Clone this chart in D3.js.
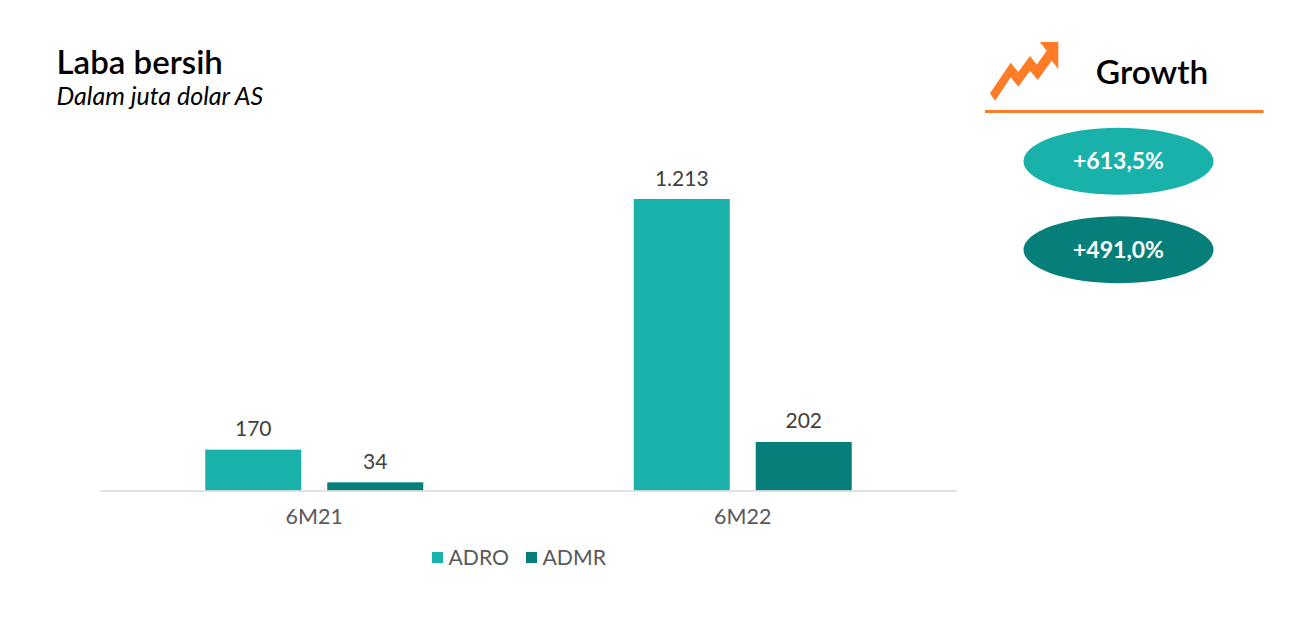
<!DOCTYPE html>
<html>
<head>
  <meta charset="utf-8">
  <title>Laba bersih</title>
  <style>
    html, body { margin: 0; padding: 0; background: #fff; }
    svg { display: block; font-family: Lato, sans-serif; }
  </style>
</head>
<body>
  <svg width="1306" height="617"></svg>
  <script src="https://cdnjs.cloudflare.com/ajax/libs/d3/7.8.5/d3.min.js"></script>
  <script>
    const categories = ['6M21', '6M22'];
    const seriesNames = ['ADRO', 'ADMR'];
    const adro = [170, 1213];
    const admr = [34, 202];
    const growthLabels = ['+613,5%', '+491,0%'];
    const colors = ['#18b2ab', '#067f7a'];

    const svg = d3.select('svg');
    const fmt = d3.formatLocale({decimal: ',', thousands: '.', grouping: [3], currency: ['', '']}).format(',');

    // titles
    svg.append('text').attr('x', 56.5).attr('y', 74)
      .attr('font-size', 33).attr('font-weight', 600).attr('fill', '#000')
      .text('Laba bersih');
    svg.append('text').attr('x', 56.5).attr('y', 105)
      .attr('font-size', 25).attr('font-style', 'italic').attr('fill', '#000')
      .text('Dalam juta dolar AS');

    // chart
    const baseline = 490.5;
    const x0 = d3.scaleBand().domain(categories).range([100, 957]);
    const x1 = d3.scaleBand().domain(seriesNames)
      .range([0, x0.bandwidth()])
      .paddingInner(0.213).paddingOuter(0.863);
    const y = d3.scaleLinear().domain([0, 1213]).range([baseline, 199]);

    [adro, admr].forEach((values, s) => {
      const g = svg.append('g');
      g.selectAll('rect').data(values).enter().append('rect')
        .attr('x', (d, i) => x0(categories[i]) + x1(seriesNames[s]))
        .attr('y', d => y(d))
        .attr('width', x1.bandwidth())
        .attr('height', d => baseline - y(d))
        .attr('fill', colors[s]);
      g.selectAll('text').data(values).enter().append('text')
        .attr('x', (d, i) => x0(categories[i]) + x1(seriesNames[s]) + x1.bandwidth() / 2)
        .attr('y', d => y(d) - 13.5)
        .attr('text-anchor', 'middle')
        .attr('font-size', 21).attr('fill', '#404040')
        .text(d => fmt(d));
    });

    const axis = svg.append('g')
      .attr('transform', 'translate(0,' + baseline + ')')
      .call(d3.axisBottom(x0).tickSize(0).tickPadding(18));
    axis.select('.domain').attr('stroke', '#d9d9d9').attr('stroke-width', 1.5);
    axis.selectAll('text').attr('font-family', 'Lato, sans-serif')
      .attr('font-size', 21.5).attr('fill', '#595959');

    // legend
    const legendX = [432, 526];
    const legend = svg.selectAll('.legend').data(seriesNames).enter().append('g')
      .attr('class', 'legend')
      .attr('transform', (d, i) => 'translate(' + legendX[i] + ',552)');
    legend.append('rect').attr('width', 11).attr('height', 11)
      .attr('fill', (d, i) => colors[i]);
    legend.append('text').attr('x', 16.5).attr('y', 12.5)
      .attr('font-size', 21.2).attr('fill', '#595959')
      .text(d => d);

    // growth panel
    const arrow = [[990,93.3],[995,100.7],[1010.7,77.3],[1018.3,86.7],[1030,70.7],[1037.7,80],
      [1051.7,60.7],[1058.3,69],[1058.3,42],[1040,42],[1046.7,50.7],[1036.7,64.7],
      [1030,56],[1018.3,72],[1010.7,62.7]];
    svg.append('path').attr('d', d3.line()(arrow) + 'Z').attr('fill', '#ff7b26');
    svg.append('text').attr('x', 1152).attr('y', 84)
      .attr('text-anchor', 'middle').attr('font-size', 33.5).attr('font-weight', 600).attr('fill', '#000')
      .text('Growth');
    svg.append('line').attr('x1', 985).attr('x2', 1263.5).attr('y1', 111.5).attr('y2', 111.5)
      .attr('stroke', '#ff7b26').attr('stroke-width', 3);

    const pillY = d3.scaleBand().domain(growthLabels).range([117, 294]);
    const pills = svg.selectAll('.pill').data(growthLabels).enter().append('g')
      .attr('class', 'pill')
      .attr('transform', d => 'translate(1118.5,' + (pillY(d) + pillY.bandwidth() / 2) + ')');
    pills.append('ellipse').attr('rx', 95).attr('ry', 33.5)
      .attr('fill', (d, i) => colors[i]);
    pills.append('text').attr('y', 8)
      .attr('text-anchor', 'middle').attr('font-size', 23).attr('font-weight', 700).attr('fill', '#fff')
      .text(d => d);
  </script>
</body>
</html>
